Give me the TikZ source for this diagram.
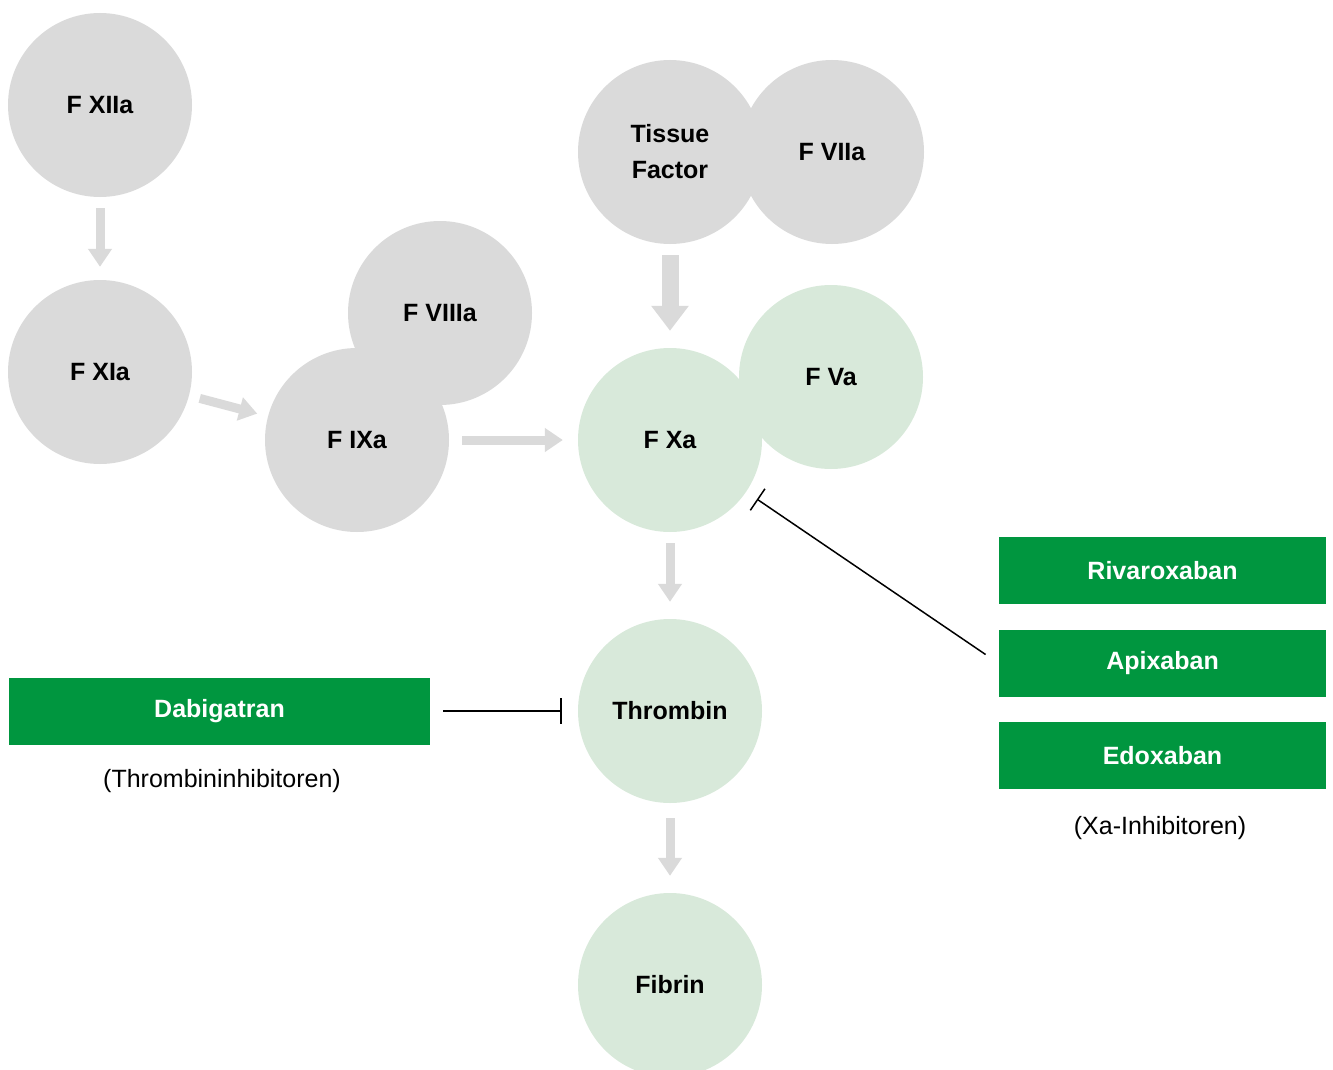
\documentclass[tikz,border=0pt]{standalone}
\usepackage{fontspec}
\setmainfont{Liberation Sans}
\usetikzlibrary{arrows.meta}
\definecolor{factorgray}{HTML}{DADADA}
\definecolor{factorgreen}{HTML}{D8E9DA}
\definecolor{druggreen}{HTML}{00963F}
\tikzset{
  factor/.style={circle, fill=factorgray, minimum size=184pt, inner sep=0pt,
    align=center, font=\fontsize{25}{36}\selectfont\bfseries},
  xfactor/.style={factor, fill=factorgreen},
  drug/.style={rectangle, fill=druggreen, minimum width=327pt, minimum height=67pt,
    inner sep=0pt, text=white, font=\fontsize{25}{28}\selectfont\bfseries},
  caption/.style={font=\fontsize{25}{28}\selectfont},
  flow/.style={draw=factorgray, line width=9pt,
    -{Triangle[width=23pt,length=18pt]}},
  bigflow/.style={draw=factorgray, line width=17pt,
    -{Triangle[width=36pt,length=25pt]}},
  inhib/.style={draw=black, line width=1.5pt, -{Bar[width=26pt]}}
}
\begin{document}
\begin{tikzpicture}[x=1pt, y=-1pt]
  \useasboundingbox (0,0) rectangle (1333,1070);
  \begin{scope}
    \clip (0,0) rectangle (1333,1070);
    % intrinsic pathway
    \node[factor] (fxiia) at (100,105) {F XIIa};
    \node[factor] (fxia) at (100,372) {F XIa};
    \node[factor] (fviiia) at (440,313) {F VIIIa};
    \node[factor] (fixa) at (357,440) {F IXa};
    % extrinsic pathway: tissue factor / F VIIa complex
    \node[factor] (tf) at (670,152) {Tissue\\Factor};
    \node[factor] (fviia) at (832,152) {F VIIa};
    % common pathway
    \node[xfactor] (fva) at (831,377) {F Va};
    \node[xfactor] (fxa) at (670,440) {F Xa};
    \node[xfactor] (thr) at (670,711) {Thrombin};
    \node[xfactor] (fib) at (670,985) {Fibrin};
  \end{scope}
  % activation arrows
  \draw[flow, shorten <=11pt, shorten >=13pt] (fxiia) -- (fxia);
  \draw[flow, shorten <=11pt, shorten >=11pt] (fxia) -- (fixa);
  \draw[flow, shorten <=13pt, shorten >=15pt] (fixa) -- (fxa);
  \draw[bigflow, shorten <=11pt, shorten >=17pt] (tf) -- (fxa);
  \draw[flow, shorten <=11pt, shorten >=17pt] (fxa) -- (thr);
  \draw[flow, shorten <=15pt, shorten >=17pt] (thr) -- (fib);
  % anticoagulants
  \node[drug, minimum width=421pt] (dab) at (219.5,711) {Dabigatran};
  \node[caption] (dabcap) at (222,781) {(Thrombininhibitoren)};
  \node[drug] (riva) at (1162.5,570.5) {Rivaroxaban};
  \node[drug] (apix) at (1162.5,663.5) {Apixaban};
  \node[drug] (edox) at (1162.5,755.5) {Edoxaban};
  \node[caption] (xacap) at (1160,828) {(Xa-Inhibitoren)};
  % inhibition lines
  \draw[inhib, shorten <=13pt, shorten >=16pt] (dab) -- (thr);
  \draw[inhib, shorten <=16pt, shorten >=13pt] (apix.west) -- (fxa);
\end{tikzpicture}
\end{document}
